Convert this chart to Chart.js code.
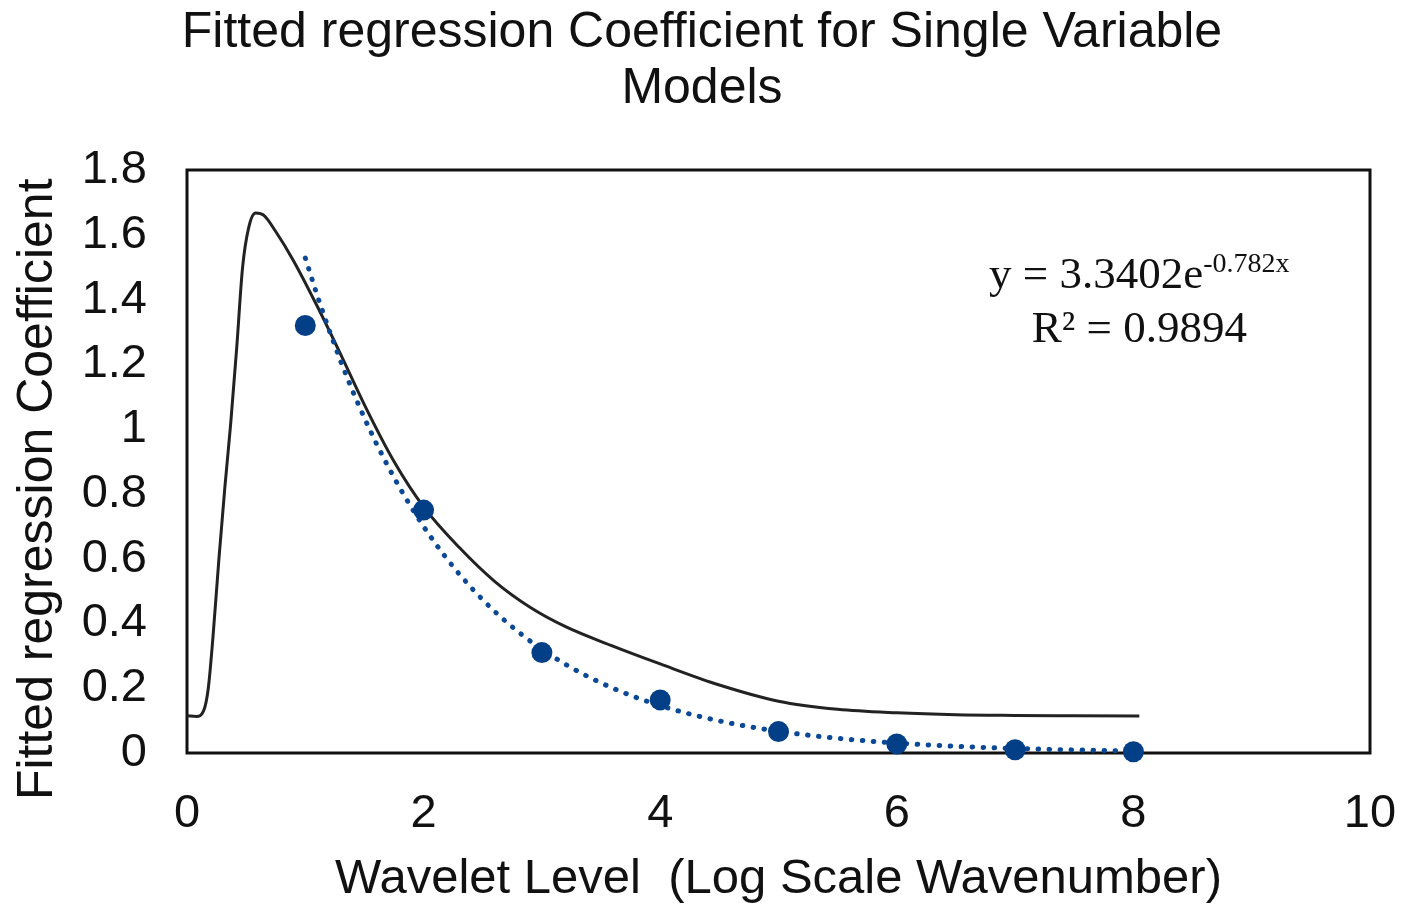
<!DOCTYPE html>
<html>
<head>
<meta charset="utf-8">
<title>Fitted regression Coefficient</title>
<script src="https://cdn.jsdelivr.net/npm/chart.js@4.4.1/dist/chart.umd.min.js"></script>
<style>
  body { margin: 0; background: #fff; }
  #wrap { width: 1404px; height: 909px; }
</style>
</head>
<body>
<div id="wrap"><canvas id="coefChart" width="1404" height="909"></canvas></div>
<script>
// ========== DATA ==========
// fitted coefficient per wavelet level
const levels = [1, 2, 3, 4, 5, 6, 7, 8];
const coefficients = [1.32, 0.75, 0.31, 0.164, 0.066, 0.028, 0.010, 0.004];

// smooth black response curve
const curveX = [0, 0.08, 0.14, 0.18, 0.22, 0.27, 0.32, 0.37, 0.42, 0.47, 0.52, 0.58, 0.65, 0.75, 0.9,
                1.1, 1.3, 1.5, 1.75, 2.0, 2.3, 2.6, 2.9, 3.2, 3.6, 4.0, 4.5, 5.0, 5.5, 6.0, 6.5, 7.0, 7.5, 8.05];
const curveY = [0.115, 0.113, 0.13, 0.2, 0.36, 0.6, 0.82, 1.02, 1.25, 1.5, 1.62, 1.667, 1.66, 1.61, 1.52,
                1.38, 1.23, 1.075, 0.9, 0.76, 0.635, 0.53, 0.45, 0.39, 0.33, 0.275, 0.21, 0.16, 0.135, 0.124, 0.118, 0.116, 0.115, 0.114];

// exponential trendline y = a * e^(b x), coefficients as printed on the chart
const trendA = 3.3402;
const trendB = -0.782;
const trendR2 = '0.9894';

const xTickLabels = ['0', '2', '4', '6', '8', '10'];
const yTickLabels = ['0', '0.2', '0.4', '0.6', '0.8', '1', '1.2', '1.4', '1.6', '1.8'];

// trendline samples between first and last level
const trendPoints = [];
for (let x = levels[0]; x <= levels[levels.length - 1] + 1e-9; x += 0.1) {
    trendPoints.push({ x: x, y: trendA * Math.exp(trendB * x) });
}

const navy = '#033f86';
const FONT = "'Liberation Sans', Arial, sans-serif";
const SERIF = "'Liberation Serif', 'Times New Roman', serif";

// box round the plot area
const framePlugin = {
    id: 'frame',
    beforeDatasetsDraw(chart) {
        const { ctx, chartArea: a } = chart;
        ctx.save();
        ctx.strokeStyle = '#111';
        ctx.lineWidth = 3;
        ctx.strokeRect(a.left, a.top, a.right - a.left, a.bottom - a.top);
        ctx.restore();
    }
};

// trendline equation text
const equationPlugin = {
    id: 'equation',
    afterDraw(chart) {
        const { ctx, scales: { x, y } } = chart;
        const cx = x.getPixelForValue(8.05);
        const y1 = y.getPixelForValue(1.436);
        const y2 = y.getPixelForValue(1.269);
        ctx.save();
        ctx.fillStyle = '#111';
        ctx.textBaseline = 'alphabetic';

        const main = 'y = ' + trendA + 'e';
        const sup = trendB + 'x';
        ctx.font = '45px ' + SERIF;
        const wMain = ctx.measureText(main).width;
        ctx.font = '28px ' + SERIF;
        const wSup = ctx.measureText(sup).width;
        const start = cx - (wMain + wSup) / 2;

        ctx.textAlign = 'left';
        ctx.font = '45px ' + SERIF;
        ctx.fillText(main, start, y1);
        ctx.font = '28px ' + SERIF;
        ctx.fillText(sup, start + wMain, y1 - 16);

        ctx.textAlign = 'center';
        ctx.font = '45px ' + SERIF;
        ctx.fillText('R\u00B2 = ' + trendR2, cx, y2);
        ctx.restore();
    }
};

Chart.defaults.font.family = FONT;
Chart.defaults.color = '#111';

new Chart(document.getElementById('coefChart'), {
    type: 'scatter',
    data: {
        datasets: [
            {
                label: 'Curve',
                data: curveX.map((x, i) => ({ x: x, y: curveY[i] })),
                showLine: true,
                borderColor: '#222',
                borderWidth: 3,
                pointRadius: 0,
                cubicInterpolationMode: 'monotone',
                order: 3
            },
            {
                label: 'Expon. trend',
                data: trendPoints,
                showLine: true,
                borderColor: '#0b4996',
                borderWidth: 5,
                borderDash: [0.5, 10.5],
                borderCapStyle: 'round',
                pointRadius: 0,
                clip: false,
                order: 2
            },
            {
                label: 'Coefficient',
                data: levels.map((x, i) => ({ x: x, y: coefficients[i] })),
                backgroundColor: navy,
                borderWidth: 0,
                pointRadius: 10.5,
                clip: false,
                order: 1
            }
        ]
    },
    options: {
        responsive: false,
        animation: false,
        devicePixelRatio: 1,
        layout: { padding: 0 },
        plugins: {
            legend: { display: false },
            tooltip: { enabled: false },
            title: {
                display: true,
                text: ['Fitted regression Coefficient for Single Variable', 'Models'],
                font: { size: 50, weight: 'normal', lineHeight: 1.12 },
                color: '#111',
                padding: { top: 5, bottom: 53 }
            }
        },
        scales: {
            x: {
                type: 'linear',
                min: 0,
                max: 10,
                grid: { display: false, drawTicks: false },
                border: { display: false },
                ticks: {
                    stepSize: 2,
                    padding: 33,
                    font: { size: 47 },
                    color: '#111',
                    callback: (v, i) => xTickLabels[i]
                },
                title: {
                    display: true,
                    text: 'Wavelet Level  (Log Scale Wavenumber)',
                    font: { size: 49 },
                    color: '#111',
                    padding: { top: 0, bottom: 0 }
                },
                afterFit(scale) {
                    // keep room on the right for the "10" label
                    scale.height = 156;
                    scale.paddingLeft = 0;
                    scale.paddingRight = 34;
                }
            },
            y: {
                min: 0,
                max: 1.8,
                grid: { display: false, drawTicks: false },
                border: { display: false },
                ticks: {
                    stepSize: 0.2,
                    padding: 40,
                    font: { size: 47 },
                    color: '#111',
                    callback: (v, i) => yTickLabels[i]
                },
                title: {
                    display: true,
                    text: 'Fitted regression Coefficient    ',
                    font: { size: 50 },
                    color: '#111',
                    padding: { top: 8, bottom: 0 }
                },
                afterFit(scale) { scale.width = 187; }
            }
        }
    },
    plugins: [framePlugin, equationPlugin]
});
</script>
</body>
</html>
